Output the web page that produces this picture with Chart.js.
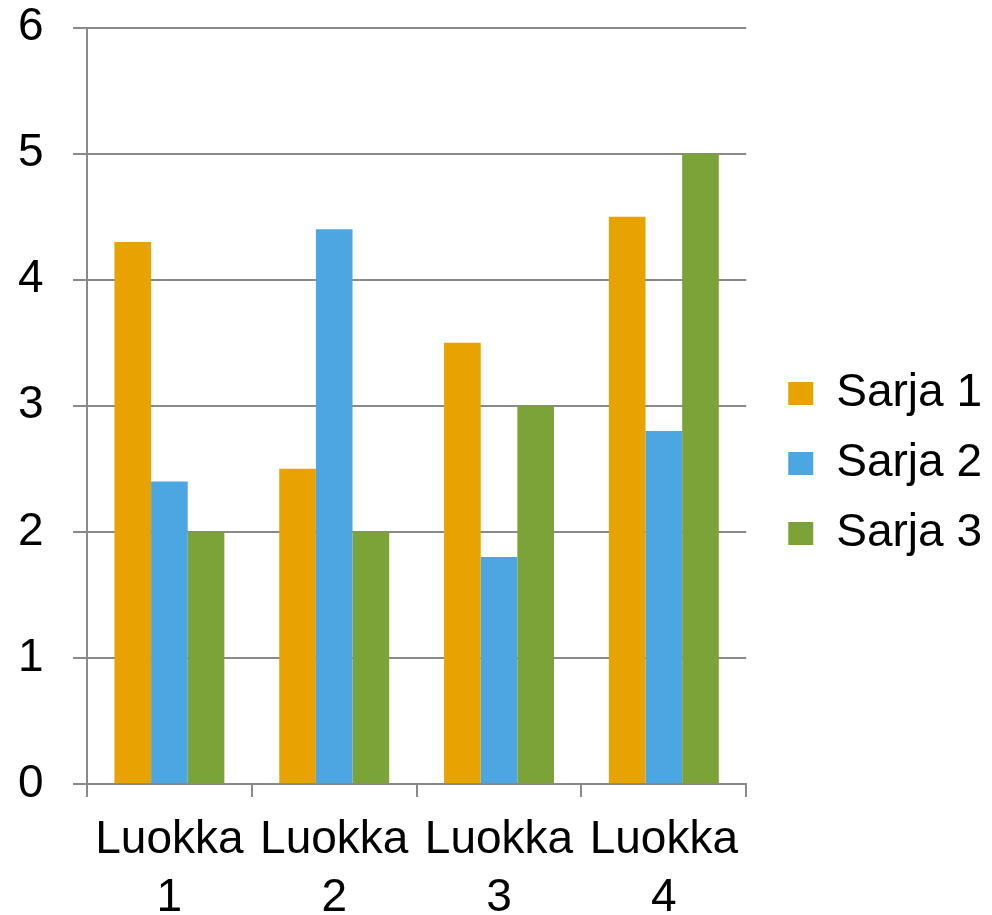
<!DOCTYPE html>
<html>
<head>
<meta charset="utf-8">
<script src="https://cdn.jsdelivr.net/npm/chart.js@4"></script>
<style>
  html, body { margin: 0; padding: 0; background: #ffffff; }
  #wrap { width: 992px; height: 915px; }
</style>
</head>
<body>
<div id="wrap"><canvas id="chart" width="992" height="915"></canvas></div>
<script>
// Data
const categories = [['Luokka', '1'], ['Luokka', '2'], ['Luokka', '3'], ['Luokka', '4']];
const seriesNames = ['Sarja 1', 'Sarja 2', 'Sarja 3'];
const sarja1 = [4.3, 2.5, 3.5, 4.5];
const sarja2 = [2.4, 4.4, 1.8, 2.8];
const sarja3 = [2, 2, 3, 5];
const yTicks = [0, 1, 2, 3, 4, 5, 6];

const colors = ['#E8A202', '#4BA6E1', '#7BA337'];
const gridGrey = '#8a8a8a';
const fontFamily = '"Liberation Sans", Arial, sans-serif';

const ctx = document.getElementById('chart').getContext('2d');
const chart = new Chart(ctx, {
    type: 'bar',
    data: {
        labels: categories,
        datasets: [sarja1, sarja2, sarja3].map((vals, i) => ({
            label: seriesNames[i],
            data: vals,
            backgroundColor: colors[i],
            borderWidth: 0,
            barPercentage: 1,
            categoryPercentage: 0.667
        }))
    },
    options: {
        responsive: false,
        animation: false,
        layout: { padding: { top: 12, right: 0, bottom: 0, left: 18 } },
        plugins: {
            tooltip: { enabled: false },
            legend: {
                position: 'right',
                maxWidth: 300,
                labels: {
                    boxWidth: 25,
                    boxHeight: 23,
                    padding: 24,
                    color: '#000000',
                    font: { family: fontFamily, size: 46 }
                }
            }
        },
        scales: {
            x: {
                grid: {
                    offset: true,
                    drawOnChartArea: false,
                    drawTicks: true,
                    tickLength: 13,
                    color: gridGrey,
                    lineWidth: 2
                },
                border: { display: true, color: gridGrey, width: 2 },
                ticks: {
                    color: '#000000',
                    font: { family: fontFamily, size: 46, lineHeight: 1.25 },
                    padding: 15,
                    maxRotation: 0,
                    autoSkip: false
                },
                afterFit: function (scale) { scale.height = 131; }
            },
            y: {
                min: yTicks[0],
                max: yTicks[yTicks.length - 1],
                afterBuildTicks: function (scale) {
                    scale.ticks = yTicks.map(v => ({ value: v }));
                },
                grid: {
                    color: gridGrey,
                    lineWidth: 2,
                    drawTicks: true,
                    tickLength: 14
                },
                border: { display: true, color: gridGrey, width: 2 },
                ticks: {
                    color: '#000000',
                    font: { family: fontFamily, size: 46, lineHeight: 1.2 },
                    padding: 0,
                    crossAlign: 'far'
                },
                afterFit: function (scale) { scale.width = 69; }
            },
            // empty axis that only keeps space between the plot and the legend
            spacer: {
                type: 'linear',
                position: 'right',
                display: true,
                grid: { display: false },
                border: { display: false },
                ticks: { display: false },
                afterFit: function (scale) { scale.width = 18; }
            }
        }
    }
});
</script>
</body>
</html>
